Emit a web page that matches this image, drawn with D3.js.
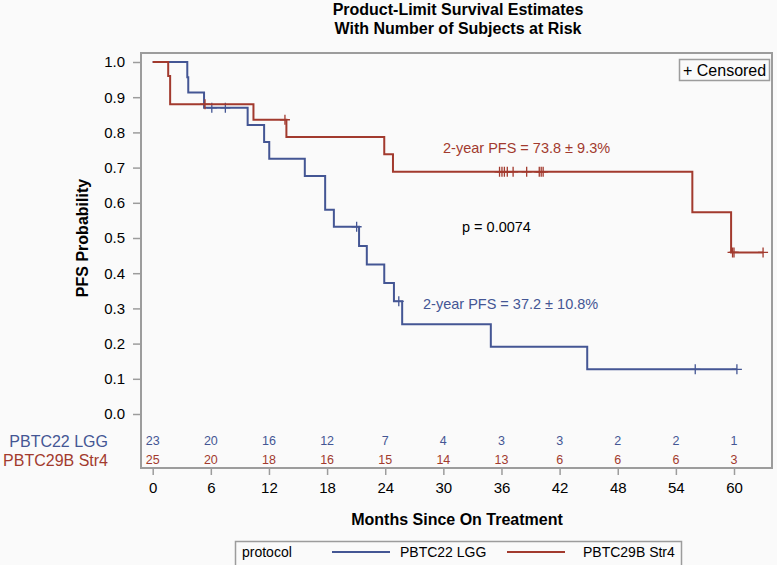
<!DOCTYPE html>
<html>
<head>
<meta charset="utf-8">
<script src="https://cdn.jsdelivr.net/npm/d3@7"></script>
<style>
	body { margin: 0; background: #fafafa; }
	svg { display: block; font-family: "Liberation Sans", Arial, sans-serif; }
	.frame { fill: none; stroke: #9c9c9c; stroke-width: 2px; }
	.tick line { stroke: #9c9c9c; stroke-width: 1.5px; }
</style>
</head>
<body>
<script>

// tick labels
var monthTicks = [0, 6, 12, 18, 24, 30, 36, 42, 48, 54, 60];
var probTicks = [0, 0.1, 0.2, 0.3, 0.4, 0.5, 0.6, 0.7, 0.8, 0.9, 1.0];

// number at risk at each month tick
var riskLGG  = [23, 20, 16, 12, 7, 4, 3, 3, 2, 2, 1];
var riskStr4 = [25, 20, 18, 16, 15, 14, 13, 6, 6, 6, 3];

// PBTC22 LGG: event times (months) and survival after each event
var lggTimes = [3.57, 3.67, 5.3, 9.8, 11.5, 12.03, 15.7, 17.8, 18.7, 21.3, 22.1, 23.9, 24.9, 25.75, 34.9, 44.85];
var lggSurv  = [0.957, 0.913, 0.870, 0.821, 0.773, 0.725, 0.676, 0.580, 0.532, 0.477, 0.425, 0.372, 0.320, 0.255, 0.191, 0.127];
var lggCensor = [6.1, 7.5, 21.05, 25.4, 56.0, 60.3];
var lggEnd = 60.3;

// PBTC29B Str4
var str4Times = [1.6, 1.8, 10.4, 13.8, 23.9, 24.8, 55.7, 59.7];
var str4Surv  = [0.96, 0.88, 0.836, 0.787, 0.738, 0.688, 0.573, 0.459];
var str4Censor = [5.4, 13.65, 35.8, 36.05, 36.3, 36.6, 37.2, 38.6, 39.9, 40.1, 40.3, 59.85, 60.0, 63.0];
var str4End = 63.0;

var width = 777, height = 565;
var blue = "#445694", red = "#a23a2e";

var svg = d3.select("body").append("svg")
	.attr("width", width)
	.attr("height", height);

var x = d3.scaleLinear().domain([0, 60]).range([152.7, 734]);
var y = d3.scaleLinear().domain([0, 1]).range([414, 62]);

var frame = { left: 141, top: 53, right: 772, bottom: 468 };

// titles
svg.append("text").attr("x", 458).attr("y", 15).attr("text-anchor", "middle")
	.style("font-weight", "bold").style("font-size", "16px")
	.text("Product-Limit Survival Estimates");
svg.append("text").attr("x", 458).attr("y", 34).attr("text-anchor", "middle")
	.style("font-weight", "bold").style("font-size", "16px")
	.text("With Number of Subjects at Risk");

svg.append("rect").attr("class", "frame")
	.attr("x", frame.left).attr("y", frame.top)
	.attr("width", frame.right - frame.left).attr("height", frame.bottom - frame.top);

// axes
var yAxis = svg.append("g")
	.attr("transform", "translate(" + frame.left + ",0)")
	.call(d3.axisLeft(y).tickValues(probTicks).tickFormat(d3.format(".1f")).tickSize(8).tickPadding(8));
yAxis.select(".domain").remove();
yAxis.selectAll("text").style("font-size", "15px").style("fill", "#000")
	.style("font-family", "Liberation Sans, Arial, sans-serif");

var xAxis = svg.append("g")
	.attr("transform", "translate(0," + frame.bottom + ")")
	.call(d3.axisBottom(x).tickValues(monthTicks).tickSize(7).tickPadding(7));
xAxis.select(".domain").remove();
xAxis.selectAll("text").style("font-size", "15px").style("fill", "#000")
	.style("font-family", "Liberation Sans, Arial, sans-serif");

svg.append("text")
	.attr("transform", "translate(88,238) rotate(-90)")
	.attr("text-anchor", "middle")
	.style("font-weight", "bold").style("font-size", "16px")
	.text("PFS Probability");

svg.append("text").attr("x", 457).attr("y", 525).attr("text-anchor", "middle")
	.style("font-weight", "bold").style("font-size", "16px")
	.text("Months Since On Treatment");

// survival step curves
function stepPoints(times, surv, end) {
	var pts = [[0, 1]];
	times.forEach(function(t, i) { pts.push([t, surv[i]]); });
	pts.push([end, surv[surv.length - 1]]);
	return pts;
}

function survAt(times, surv, t) {
	var s = 1;
	times.forEach(function(tt, i) { if (tt <= t) s = surv[i]; });
	return s;
}

var line = d3.line()
	.x(function(d) { return x(d[0]); })
	.y(function(d) { return y(d[1]); })
	.curve(d3.curveStepAfter);

var groups = [
	{ times: lggTimes, surv: lggSurv, censor: lggCensor, end: lggEnd, color: blue },
	{ times: str4Times, surv: str4Surv, censor: str4Censor, end: str4End, color: red }
];

groups.forEach(function(g) {
	svg.append("path")
		.datum(stepPoints(g.times, g.surv, g.end))
		.attr("d", line)
		.attr("fill", "none")
		.attr("stroke", g.color)
		.attr("stroke-width", 2);

	svg.append("g").selectAll("path")
		.data(g.censor)
	  .enter().append("path")
		.attr("d", function(t) {
			var cx = x(t), cy = y(survAt(g.times, g.surv, t));
			return "M" + cx + "," + (cy - 5) + " V" + (cy + 5) + " M" + (cx - 5) + "," + cy + " H" + (cx + 5);
		})
		.attr("stroke", g.color)
		.attr("stroke-width", 1.3)
		.attr("fill", "none");
});

// annotations
svg.append("text").attr("x", 443).attr("y", 153).style("font-size", "14.5px").style("fill", red)
	.text("2-year PFS = 73.8 \u00b1 9.3%");
svg.append("text").attr("x", 423).attr("y", 309).style("font-size", "14.5px").style("fill", blue)
	.text("2-year PFS = 37.2 \u00b1 10.8%");
svg.append("text").attr("x", 462).attr("y", 232).style("font-size", "14.5px").style("fill", "#000")
	.text("p = 0.0074");

// censored legend
svg.append("rect").attr("x", 679.5).attr("y", 59.5).attr("width", 90).attr("height", 21)
	.attr("fill", "none").attr("stroke", "#9c9c9c").attr("stroke-width", 1.5);
svg.append("text").attr("x", 683).attr("y", 76).style("font-size", "16px")
	.text("+ Censored");

// at-risk table
var riskRows = [
	{ label: "PBTC22 LGG", values: riskLGG, color: blue, yPos: 445 },
	{ label: "PBTC29B Str4", values: riskStr4, color: red, yPos: 463.5 }
];

riskRows.forEach(function(r) {
	svg.append("text").attr("x", 108).attr("y", r.yPos + 2).attr("text-anchor", "end")
		.style("font-size", "16px").style("fill", r.color)
		.text(r.label);
	svg.append("g").selectAll("text")
		.data(r.values)
	  .enter().append("text")
		.attr("x", function(d, i) { return x(monthTicks[i]); })
		.attr("y", r.yPos)
		.attr("text-anchor", "middle")
		.style("font-size", "12.5px")
		.style("fill", r.color)
		.text(function(d) { return d; });
});

// protocol legend
var legend = svg.append("g");
legend.append("rect").attr("x", 235.5).attr("y", 541.5).attr("width", 446).attr("height", 30)
	.attr("fill", "none").attr("stroke", "#9c9c9c").attr("stroke-width", 1.5);
legend.append("text").attr("x", 242).attr("y", 557).style("font-size", "14px").text("protocol");
var legendItems = [
	{ label: "PBTC22 LGG", color: blue, x0: 332 },
	{ label: "PBTC29B Str4", color: red, x0: 507 }
];
legendItems.forEach(function(it) {
	legend.append("line").attr("x1", it.x0).attr("x2", it.x0 + 58).attr("y1", 552).attr("y2", 552)
		.attr("stroke", it.color).attr("stroke-width", 2);
	legend.append("text").attr("x", it.x0 + 68 + (it.color === red ? 8 : 0)).attr("y", 557)
		.style("font-size", "14px").text(it.label);
});

</script>
</body>
</html>
